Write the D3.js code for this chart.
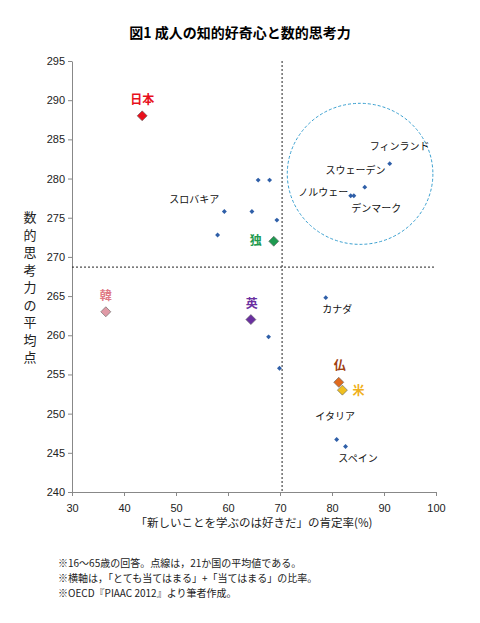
<!DOCTYPE html><html><head><meta charset="utf-8"><script src="https://cdn.jsdelivr.net/npm/d3@7"></script>
<style>body{margin:0;background:#fff;font-family:"Noto Sans CJK JP",sans-serif}</style></head><body><svg id="c" width="480" height="623"></svg>
<script>
const smallX=[59.3,64.6,65.8,68.0,69.4,58.0,91.1,86.3,83.6,84.2,78.8,67.8,69.9,80.9,82.6];
const smallY=[275.8,275.8,279.8,279.8,274.7,272.8,281.9,278.9,277.8,277.8,264.8,259.8,255.8,246.7,245.8];
const bigNames=["日本","韓","英","独","仏","米"];
const bigX=[43.5,36.5,64.4,68.8,81.3,82.0];
const bigY=[288,263,262,272,254,253];
const bigColors=["#e8101c","#e09aa6","#6a2fa0","#1e9a50","#e06a1e","#f0c020"];
const labelColors=["#e8101c","#e07a86","#6a2fa0","#1e9a50","#a04010","#f0b020"];
const textLabels=["スロバキア","フィンランド","スウェーデン","ノルウェー","デンマーク","カナダ","イタリア","スペイン"];
const textLabelX=[53.5,93,84.5,78.3,88.5,81,80.6,85];
const textLabelY=[276.9,283.6,280.6,277.8,275.7,262.8,249.2,243.8];
const avgX=70.4, avgY=268.7;
const xTicks=[30,40,50,60,70,80,90,100], yTicks=[240,245,250,255,260,265,270,275,280,285,290,295];
const svg=d3.select("#c");
const x=d3.scaleLinear().domain([30,100]).range([72,436]);
const y=d3.scaleLinear().domain([240,295]).range([492,61]);
svg.append("text").attr("x",240).attr("y",38).attr("text-anchor","middle").attr("font-size",14).attr("font-weight","bold").text("図1 成人の知的好奇心と数的思考力");
const gx=svg.append("g").attr("transform","translate(0,492)").call(d3.axisBottom(x).tickValues(xTicks).tickSize(4).tickSizeOuter(0));
const gy=svg.append("g").attr("transform","translate(72,0)").call(d3.axisLeft(y).tickValues(yTicks).tickSize(4).tickSizeOuter(0));
[gx,gy].forEach(g=>{g.selectAll("path,line").attr("stroke","#888");g.selectAll("text").attr("font-size",11).attr("fill","#222").attr("font-family","Arial,sans-serif");});
gx.selectAll("text").attr("dy","1.2em");
svg.append("line").attr("x1",x(avgX)).attr("x2",x(avgX)).attr("y1",y(295)).attr("y2",y(240)).attr("stroke","#222").attr("stroke-dasharray","2,2");
svg.append("line").attr("x1",x(30)).attr("x2",x(100)).attr("y1",y(avgY)).attr("y2",y(avgY)).attr("stroke","#222").attr("stroke-dasharray","2,2");
svg.append("ellipse").attr("cx",x(85.4)).attr("cy",y(280.6)).attr("rx",x(85.4)-x(71.4)).attr("ry",y(271.6)-y(280.6)).attr("fill","none").attr("stroke","#3aa0d0").attr("stroke-dasharray","3,2");
const sq=d3.symbol().type(d3.symbolSquare);
smallX.forEach((v,i)=>svg.append("path").attr("d",sq.size(12)()).attr("transform",`translate(${x(v)},${y(smallY[i])}) rotate(45)`).attr("fill","#2f5fa8"));
bigX.forEach((v,i)=>{svg.append("path").attr("d",sq.size(50)()).attr("transform",`translate(${x(v)},${y(bigY[i])}) rotate(45)`).attr("fill",bigColors[i]).attr("stroke","#666").attr("stroke-width",0.6);});
const bl=[[0,0,-12],[1,0,-12],[2,1,-12],[3,-18,4],[4,1,-12],[5,16,5]];
bl.forEach(([i,dx,dy])=>svg.append("text").attr("x",x(bigX[i])+dx).attr("y",y(bigY[i])+dy).attr("text-anchor","middle").attr("font-size",12).attr("font-weight","bold").attr("fill",labelColors[i]).text(bigNames[i]));
textLabels.forEach((t,i)=>svg.append("text").attr("x",x(textLabelX[i])).attr("y",y(textLabelY[i])).attr("text-anchor","middle").attr("font-size",10).attr("fill","#111").text(t));
svg.append("text").attr("x",254).attr("y",527).attr("text-anchor","middle").attr("font-size",11.5).attr("fill","#222").text("「新しいことを学ぶのは好きだ」の肯定率(%)");
const yl="数的思考力の平均点".split("");
yl.forEach((c,i)=>svg.append("text").attr("x",30).attr("y",222+i*17.5).attr("text-anchor","middle").attr("font-size",13).attr("fill","#222").text(c));
["※16～65歳の回答。点線は，21か国の平均値である。","※横軸は，「とても当てはまる」+「当てはまる」の比率。","※OECD『PIAAC 2012』より筆者作成。"].forEach((t,i)=>svg.append("text").attr("x",58).attr("y",567+i*15).attr("font-size",10).attr("fill","#222").text(t));
</script></body></html>
